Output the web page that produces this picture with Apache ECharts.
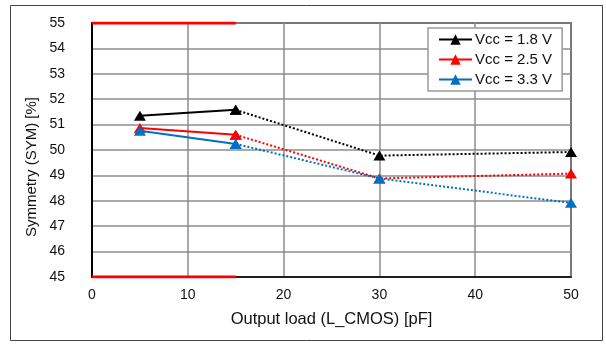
<!DOCTYPE html>
<html><head><meta charset="utf-8">
<script src="https://cdn.jsdelivr.net/npm/echarts@6/dist/echarts.min.js"></script>
<style>html,body{margin:0;padding:0;background:#fff}#c{width:606px;height:344px}</style>
</head><body><div id="c"></div>
<script>
const xLoad = [5, 15, 30, 50];
const vcc18 = [51.35, 51.58, 49.78, 49.92];
const vcc25 = [50.87, 50.6, 48.88, 49.07];
const vcc33 = [50.76, 50.24, 48.88, 47.92];
const seriesNames = ['Vcc = 1.8 V', 'Vcc = 2.5 V', 'Vcc = 3.3 V'];
const seriesColors = ['#000000', '#ff0000', '#0070c0'];
const specX = [0, 15];
const specUpper = 55;
const specLower = 45;
const xTicks = { min: 0, max: 50, interval: 10 };
const yTicks = { min: 45, max: 55, interval: 1 };

const F = '"Liberation Sans", Arial, sans-serif';
const all = [vcc18, vcc25, vcc33];
const series = [];
all.forEach((vals, i) => {
  const pts = xLoad.map((x, j) => [x, vals[j]]);
  series.push({
    name: seriesNames[i], type: 'line', data: pts.slice(0, 2),
    symbol: 'triangle', symbolSize: [12, 10],
    itemStyle: { color: seriesColors[i] },
    lineStyle: { color: seriesColors[i], width: 2 }, z: 5 + i
  });
  series.push({
    name: seriesNames[i], type: 'line', data: pts.slice(1),
    symbol: 'triangle', symbolSize: [12, 10],
    itemStyle: { color: seriesColors[i] },
    lineStyle: { color: seriesColors[i], width: 2, type: [2, 2] }, z: 5 + i
  });
});
series.push({ type: 'line', data: specX.map(x => [x, specUpper]), symbol: 'none', lineStyle: { color: '#ff0000', width: 3 }, z: 10, silent: true });
series.push({ type: 'line', data: specX.map(x => [x, specLower]), symbol: 'none', lineStyle: { color: '#ff0000', width: 3 }, z: 10, silent: true });

const chart = echarts.init(document.getElementById('c'), null, { renderer: 'canvas' });
chart.setOption({
  animation: false,
  backgroundColor: '#fff',
  grid: { left: 92, right: 35, top: 23, bottom: 67, show: true, borderColor: '#000', borderWidth: 1.5, backgroundColor: 'transparent' },
  xAxis: {
    type: 'value', min: xTicks.min, max: xTicks.max, interval: xTicks.interval,
    name: 'Output load (L_CMOS) [pF]', nameLocation: 'middle', nameGap: 34,
    nameTextStyle: { fontFamily: F, fontSize: 16.5, color: '#111' },
    axisLine: { show: true, lineStyle: { color: '#000', width: 1.5 } },
    axisTick: { show: false },
    axisLabel: { fontFamily: F, fontSize: 14, color: '#111', margin: 11 },
    splitLine: { show: true, lineStyle: { color: '#8c8c8c', width: 1.5 } }
  },
  yAxis: {
    type: 'value', min: yTicks.min, max: yTicks.max, interval: yTicks.interval,
    axisLine: { show: true, lineStyle: { color: '#000', width: 2 } },
    axisTick: { show: false },
    axisLabel: { fontFamily: F, fontSize: 14, color: '#111', margin: 27 },
    splitLine: { show: true, lineStyle: { color: '#8c8c8c', width: 1.5 } }
  },
  legend: {
    data: seriesNames, orient: 'vertical', left: 428, top: 28,
    backgroundColor: '#fff', borderColor: '#999', borderWidth: 1.5,
    padding: [4, 10, 4, 10], itemGap: 5, itemWidth: 33, itemHeight: 13,
    textStyle: { fontFamily: F, fontSize: 15, color: '#111', padding: [0, 0, 0, -2] }
  },
  graphic: [
    { type: 'rect', shape: { x: 10.5, y: 5.5, width: 592, height: 335 }, style: { fill: 'none', stroke: '#444', lineWidth: 1 }, z: -1 },
    { type: 'text', x: 32, y: 167, rotation: Math.PI / 2, style: { text: 'Symmetry (SYM) [%]', font: '15px "Liberation Sans", Arial, sans-serif', fill: '#111', align: 'center', verticalAlign: 'middle' } }
  ],
  series: series
});
</script></body></html>
